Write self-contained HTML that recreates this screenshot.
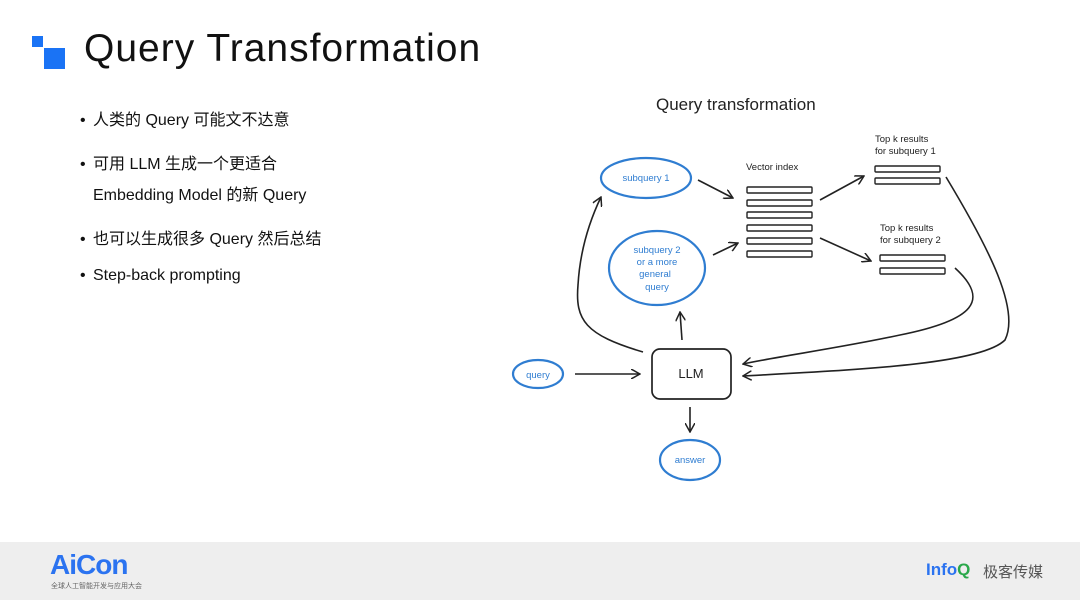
<!DOCTYPE html>
<html><head><meta charset="utf-8"><style>
body{margin:0;width:1080px;height:600px;background:#fff;position:relative;overflow:hidden;font-family:"Liberation Sans","Noto Sans CJK SC",sans-serif}
.t{position:absolute;left:84px;top:27px;font-size:39px;letter-spacing:1px;color:#111;white-space:nowrap}
.b{position:absolute;left:80px;font-size:16px;color:#111;white-space:nowrap}
.b span{display:inline-block;width:13px}
.foot{position:absolute;left:0;top:542px;width:1080px;height:58px;background:#eeeeee}
</style></head><body>
<div style="position:absolute;left:32px;top:36px;width:11px;height:11px;background:#1a73f5"></div>
<div style="position:absolute;left:44px;top:48px;width:21px;height:21px;background:#1a73f5"></div>
<div class="t">Query Transformation</div>
<div class="b" style="top:106px"><span>•</span>人类的 Query 可能文不达意</div>
<div class="b" style="top:150px"><span>•</span>可用 LLM 生成一个更适合</div>
<div class="b" style="top:181px"><span></span>Embedding Model 的新 Query</div>
<div class="b" style="top:225px"><span>•</span>也可以生成很多 Query 然后总结</div>
<div class="b" style="top:267px"><span>•</span>Step-back prompting</div>
<svg style="position:absolute;left:0;top:0" width="1080" height="542" font-family="Liberation Sans, sans-serif">
<defs><marker id="a" markerWidth="10" markerHeight="10" refX="9" refY="5" orient="auto" markerUnits="userSpaceOnUse"><path d="M0,0 L9,5 L0,10" fill="none" stroke="#222" stroke-width="1.5"/></marker></defs>
<text x="656" y="110" font-size="17" fill="#222">Query transformation</text>
<g fill="none" stroke="#2f7dd1" stroke-width="2.2">
<ellipse cx="646" cy="178" rx="45" ry="20"/>
<ellipse cx="657" cy="268" rx="48" ry="37"/>
<ellipse cx="538" cy="374" rx="25" ry="14"/>
<ellipse cx="690" cy="460" rx="30" ry="20"/>
</g>
<g fill="#2f7dd1" font-size="9.5" text-anchor="middle">
<text x="646" y="181">subquery 1</text>
<text x="657" y="253">subquery 2</text>
<text x="657" y="265">or a more</text>
<text x="655" y="277">general</text>
<text x="657" y="290">query</text>
<text x="538" y="378">query</text>
<text x="690" y="463">answer</text>
</g>
<rect x="652" y="349" width="79" height="50" rx="8" fill="none" stroke="#222" stroke-width="1.7"/>
<text x="691" y="378" font-size="13" text-anchor="middle" fill="#222">LLM</text>
<g fill="#222" font-size="9.5">
<text x="746" y="170">Vector index</text>
<text x="875" y="142">Top k results</text>
<text x="875" y="154">for subquery 1</text>
<text x="880" y="231">Top k results</text>
<text x="880" y="243">for subquery 2</text>
</g>
<g fill="none" stroke="#222" stroke-width="1.4">
<rect x="747" y="187" width="65" height="6" rx="1"/><rect x="747" y="200" width="65" height="6" rx="1"/><rect x="747" y="212" width="65" height="6" rx="1"/><rect x="747" y="225" width="65" height="6" rx="1"/><rect x="747" y="238" width="65" height="6" rx="1"/><rect x="747" y="251" width="65" height="6" rx="1"/>
<rect x="875" y="166" width="65" height="6" rx="1"/><rect x="875" y="178" width="65" height="6" rx="1"/>
<rect x="880" y="255" width="65" height="6" rx="1"/><rect x="880" y="268" width="65" height="6" rx="1"/>
</g>
<g fill="none" stroke="#222" stroke-width="1.6" marker-end="url(#a)">
<path d="M698,180 L733,198"/>
<path d="M713,255 L738,243"/>
<path d="M820,200 L864,176"/>
<path d="M820,238 L871,261"/>
<path d="M643,352 C585,335 575,320 578,285 C580,250 590,220 601,197"/>
<path d="M682,340 L680,312"/>
<path d="M575,374 L640,374"/>
<path d="M690,407 L690,432"/>
<path d="M955,268 C990,300 975,320 900,335 C840,348 780,356 743,364"/>
<path d="M946,177 C990,250 1020,310 1005,340 C980,365 850,370 743,376"/>
</g>
</svg>
<div class="foot">
<div style="position:absolute;left:50px;top:7px;font-size:28px;font-weight:bold;color:#2b73f0;letter-spacing:-1px">AiCon</div>
<div style="position:absolute;left:51px;top:39px;font-size:7px;color:#666">全球人工智能开发与应用大会</div>
<div style="position:absolute;left:926px;top:18px;font-size:17px;font-weight:bold;color:#2b73f0">Info<span style="color:#2aa84a">Q</span></div>
<div style="position:absolute;left:983px;top:19px;font-size:15px;color:#555">极客传媒</div>
</div>
</body></html>
